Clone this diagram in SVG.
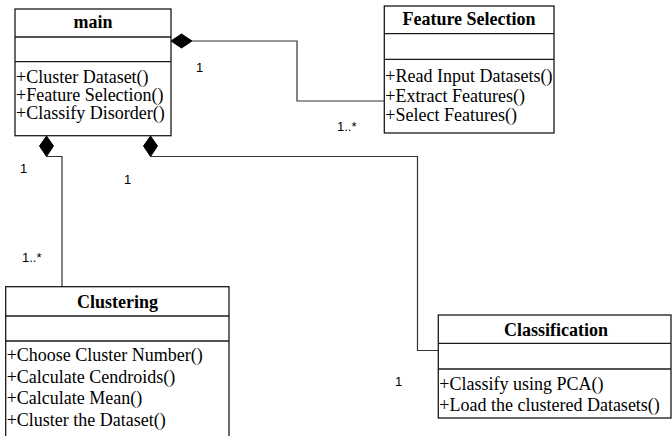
<svg xmlns="http://www.w3.org/2000/svg" width="672" height="436" viewBox="0 0 672 436">
  <style>
    .box { fill: #fff; stroke: #1a1a1a; stroke-width: 1.3; }
    .sep { stroke: #1a1a1a; stroke-width: 1.3; }
    .title { font-family: "Liberation Serif", "Times New Roman", serif; font-size: 18px; font-weight: bold; text-anchor: middle; fill: #000; }
    .op { font-family: "Liberation Serif", "Times New Roman", serif; font-size: 18px; fill: #000; }
    .mult { font-family: "Liberation Sans", Arial, sans-serif; font-size: 13px; fill: #000; }
    .wire { fill: none; stroke: #333; stroke-width: 1.2; }
    .diamond { fill: #000; stroke: #000; stroke-width: 1; }
  </style>
  <rect width="672" height="436" fill="#fff"/>

  <!-- connectors: composition links from main -->
  <g id="connectors">
    <polyline class="wire" points="192,41 297,41 297,101 384.3,101"/>
    <polygon class="diamond" points="171,41 181.5,34 192,41 181.5,48"/>
    <polyline class="wire" points="46.5,156.5 62,156.5 62,286.7"/>
    <polygon class="diamond" points="46.5,136 53.5,146 46.5,156.5 39.5,146"/>
    <polyline class="wire" points="150.5,156.5 417.5,156.5 417.5,350.5 438.3,350.5"/>
    <polygon class="diamond" points="150.5,136 157.5,146 150.5,156.5 143.5,146"/>
    <text class="mult" x="196" y="72">1</text>
    <text class="mult" x="337" y="131">1..*</text>
    <text class="mult" x="20" y="173">1</text>
    <text class="mult" x="124" y="184">1</text>
    <text class="mult" x="22" y="262">1..*</text>
    <text class="mult" x="395" y="386">1</text>
  </g>

  <g id="main">
    <rect class="box" x="15" y="9" width="156" height="126.7"/>
    <line class="sep" x1="15" y1="37" x2="171" y2="37"/>
    <line class="sep" x1="15" y1="61.7" x2="171" y2="61.7"/>
    <text class="title" x="93" y="27.5">main</text>
    <text class="op" x="16" y="83.3">+Cluster Dataset()</text>
    <text class="op" x="16" y="101.3">+Feature Selection()</text>
    <text class="op" x="16" y="119.3">+Classify Disorder()</text>
  </g>

  <g id="feature-selection">
    <rect class="box" x="384.3" y="6" width="169.7" height="127"/>
    <line class="sep" x1="384.3" y1="33.7" x2="554" y2="33.7"/>
    <line class="sep" x1="384.3" y1="59.3" x2="554" y2="59.3"/>
    <text class="title" x="469" y="25">Feature Selection</text>
    <text class="op" x="385.3" y="81.5">+Read Input Datasets()</text>
    <text class="op" x="385.3" y="101.5">+Extract Features()</text>
    <text class="op" x="385.3" y="120.5">+Select Features()</text>
  </g>

  <g id="clustering">
    <rect class="box" x="5.7" y="286.7" width="223.3" height="170"/>
    <line class="sep" x1="5.7" y1="316" x2="229" y2="316"/>
    <line class="sep" x1="5.7" y1="341" x2="229" y2="341"/>
    <text class="title" x="117.5" y="308">Clustering</text>
    <text class="op" x="6.7" y="361">+Choose Cluster Number()</text>
    <text class="op" x="6.7" y="382.5">+Calculate Cendroids()</text>
    <text class="op" x="6.7" y="404">+Calculate Mean()</text>
    <text class="op" x="6.7" y="425.5">+Cluster the Dataset()</text>
  </g>

  <g id="classification">
    <rect class="box" x="438.3" y="315" width="232.7" height="103"/>
    <line class="sep" x1="438.3" y1="343.3" x2="671" y2="343.3"/>
    <line class="sep" x1="438.3" y1="369" x2="671" y2="369"/>
    <text class="title" x="556" y="335.5">Classification</text>
    <text class="op" x="439.3" y="389.5">+Classify using PCA()</text>
    <text class="op" x="439.3" y="410.5">+Load the clustered Datasets()</text>
  </g>
</svg>
